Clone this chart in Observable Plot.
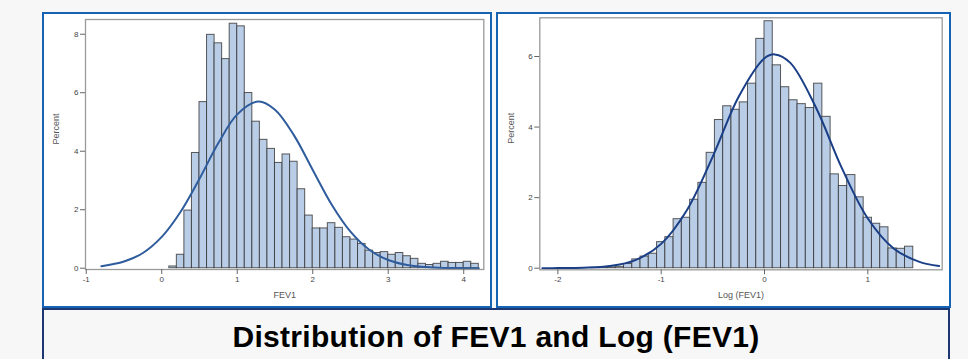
<!DOCTYPE html>
<html><head><meta charset="utf-8">
<script src="https://cdn.jsdelivr.net/npm/d3@7"></script>
<script src="https://cdn.jsdelivr.net/npm/@observablehq/plot@0.6"></script>
<style>
body{margin:0;background:#f7f7f7;width:968px;height:359px;overflow:hidden;position:relative;font-family:"Liberation Sans",Arial,sans-serif;}
.panel{position:absolute;box-sizing:border-box;border:2px solid #1763b3;background:#fff;}
#left{left:42px;top:12px;width:450px;height:296px;}
#right{left:496px;top:12px;width:455px;height:296px;}
.panel svg{position:absolute;left:0;top:0;}
#titlebox{position:absolute;left:42px;top:308px;width:908px;height:60px;box-sizing:border-box;border:2px solid #1c3772;background:#f7f7f7;}
#title{position:absolute;left:42px;width:908px;top:322px;text-align:center;font-weight:bold;font-size:30px;line-height:30px;letter-spacing:0.3px;color:#000;white-space:nowrap;}
</style></head>
<body>
<div id="left" class="panel"></div>
<div id="right" class="panel"></div>
<div id="titlebox"></div>
<div id="title">Distribution of FEV1 and Log (FEV1)</div>
<script>
// FEV1 histogram: bin lower edges (width 0.1) and percents
const fev1BinWidth = 0.1;
const fev1Bins = [0.1,0.2,0.3,0.4,0.5,0.6,0.7,0.8,0.9,1.0,1.1,1.2,1.3,1.4,1.5,1.6,1.7,1.8,1.9,2.0,2.1,2.2,2.3,2.4,2.5,2.6,2.7,2.8,2.9,3.0,3.1,3.2,3.3,3.4,3.5,3.6,3.7,3.8,3.9,4.0,4.1];
const fev1Pct = [0.06,0.46,1.97,3.94,5.68,7.98,7.69,7.15,8.36,8.27,5.99,5.01,4.39,4.08,3.60,3.89,3.64,2.70,1.80,1.36,1.36,1.54,1.38,1.06,0.98,0.83,0.60,0.52,0.55,0.46,0.52,0.41,0.32,0.15,0.11,0.15,0.22,0.18,0.18,0.22,0.15];
// fitted normal curve for FEV1
const fev1CurveX = [-0.8,-0.5,-0.25,0,0.25,0.5,0.75,1.0,1.28,1.5,1.75,2.0,2.25,2.5,2.75,3.0,3.25,3.5,3.75,4.0,4.2];
const fev1CurveY = [0.07,0.23,0.52,1.07,1.93,3.06,4.28,5.26,5.70,5.42,4.55,3.36,2.18,1.25,0.63,0.28,0.11,0.04,0.01,0.003,0.001];
const fev1XTicks = [-1,0,1,2,3,4];
const fev1YTicks = [0,2,4,6,8];

// Log(FEV1) histogram: bin lower edges (width 0.08) and percents
const logBinWidth = 0.08;
const logBins = [-1.68,-1.60,-1.52,-1.44,-1.36,-1.28,-1.20,-1.12,-1.04,-0.96,-0.88,-0.80,-0.72,-0.64,-0.56,-0.48,-0.40,-0.32,-0.24,-0.16,-0.08,0,0.08,0.16,0.24,0.32,0.40,0.48,0.56,0.64,0.72,0.80,0.88,0.96,1.04,1.12,1.20,1.28,1.36];
const logPct = [0.01,0.02,0.02,0.04,0.12,0.25,0.33,0.41,0.74,0.88,1.39,1.43,1.94,2.42,3.27,4.20,4.59,4.49,4.70,5.23,6.50,7.00,5.75,5.13,4.76,4.65,4.54,5.23,4.29,2.66,2.33,2.64,2.01,1.43,1.26,1.16,0.56,0.55,0.61];
const logCurveX = [-2.15,-2.0,-1.75,-1.5,-1.25,-1.0,-0.75,-0.5,-0.25,0,0.1,0.25,0.5,0.75,1.0,1.25,1.5,1.69];
const logCurveY = [0.001,0.003,0.013,0.06,0.23,0.69,1.65,3.17,4.86,5.95,6.06,5.82,4.54,2.83,1.41,0.56,0.18,0.064];
const logXTicks = [-2,-1,0,1];
const logYTicks = [0,2,4,6];

function histo(o) {
  const bars = o.bins.map((lo, i) => ({lo, hi: lo + o.bw, pct: o.pct[i]}));
  const curve = o.cx.map((x, i) => ({x, y: o.cy[i]}));
  return Plot.plot({
    width: o.width, height: 292,
    marginLeft: o.ml, marginRight: o.mr, marginTop: o.mt, marginBottom: o.mb,
    x: {domain: o.xdom}, y: {domain: o.ydom},
    style: {fontFamily: "'Liberation Sans', Arial, sans-serif", color: "#444", background: "white", overflow: "visible"},
    marks: [
      Plot.rectY(bars, {x1: "lo", x2: "hi", y1: 0, y2: "pct", fill: "#b9cde7", stroke: "#333", strokeWidth: 1, strokeOpacity: 0.8}),
      Plot.line(curve, {x: "x", y: "y", stroke: o.curveColor, strokeWidth: 2, curve: "catmull-rom"}),
      Plot.frame({stroke: "#9a9a9a", strokeWidth: 1.3}),
      Plot.axisX({ticks: o.xticks, tickSize: 5, tickPadding: 2, fontSize: 8, label: null, stroke: "#666", tickFormat: d => String(d)}),
      Plot.axisY({ticks: o.yticks, tickSize: 5, tickPadding: 2, fontSize: 8, label: null, stroke: "#666", tickFormat: d => String(d)}),
      Plot.text([o.xlabel], {text: d => d, frameAnchor: "bottom", dy: 28, fontSize: 9, fill: "#555"}),
      Plot.text(["Percent"], {text: d => d, frameAnchor: "left", rotate: -90, dx: -29, fontSize: 9, fill: "#555"})
    ]
  });
}

document.getElementById("left").appendChild(histo({
  bins: fev1Bins, pct: fev1Pct, bw: fev1BinWidth, cx: fev1CurveX, cy: fev1CurveY,
  xdom: [-1.01, 4.266], ydom: [-0.044, 8.504], xticks: fev1XTicks, yticks: fev1YTicks,
  xlabel: "FEV1", width: 446, ml: 41, mr: 6.7, mt: 5, mb: 37, curveColor: "#2f5c9d"
}));
document.getElementById("right").appendChild(histo({
  bins: logBins, pct: logPct, bw: logBinWidth, cx: logCurveX, cy: logCurveY,
  xdom: [-2.175, 1.72], ydom: [-0.045, 7.097], xticks: logXTicks, yticks: logYTicks,
  xlabel: "Log (FEV1)", width: 451, ml: 41.3, mr: 7.3, mt: 3.3, mb: 36.7, curveColor: "#1b3f87"
}));
</script>
</body></html>
